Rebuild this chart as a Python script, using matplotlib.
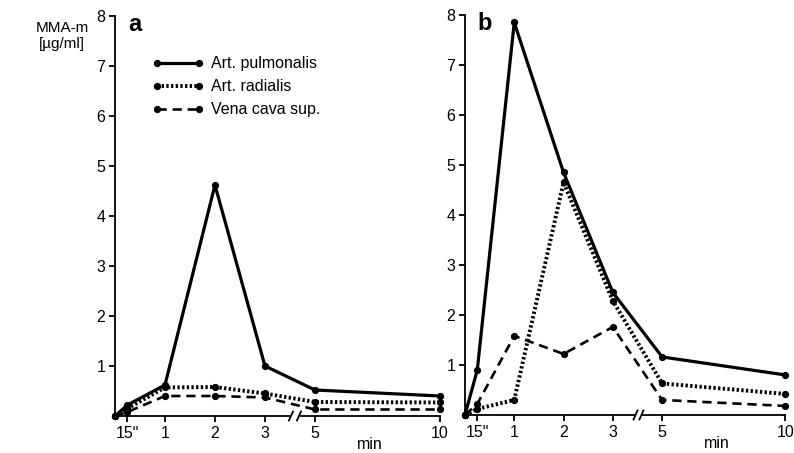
import numpy as np
import matplotlib
matplotlib.use("Agg")
import matplotlib.pyplot as plt

plt.rcParams['font.family'] = ['Liberation Sans', 'DejaVu Sans']

# sampling times in minutes (0, 15 s, 1, 2, 3, 5, 10)
times = [0, 0.25, 1, 2, 3, 5, 10]
tick_times = [0.25, 1, 2, 3, 5, 10]
tick_labels = ['15"', '1', '2', '3', '5', '10']

series_names = ["Art. pulmonalis", "Art. radialis", "Vena cava sup."]

# panel a
a_pulm = [0, 0.22, 0.62, 4.62, 1.0, 0.52, 0.40]
a_rad = [0, 0.15, 0.57, 0.58, 0.45, 0.28, 0.27]
a_vena = [0, 0.08, 0.40, 0.40, 0.37, 0.13, 0.13]

# panel b
b_pulm = [0, 0.90, 7.85, 4.85, 2.45, 1.16, 0.80]
b_rad = [0, 0.12, 0.30, 4.65, 2.28, 0.63, 0.42]
b_vena = [0, 0.22, 1.58, 1.22, 1.76, 0.30, 0.18]


def xpos(t):
    """broken time axis: linear up to 3 min, then 5..10 min compressed"""
    t = np.asarray(t, dtype=float)
    return np.where(t <= 3, t, 4 + (t - 5) * 0.5)


styles = [dict(ls="-", lw=2.3),
          dict(ls=(0, (0.6, 0.6)), lw=2.8),
          dict(ls=(0, (3.5, 2.2)), lw=1.9)]

fig = plt.figure(figsize=(7.94, 4.53), dpi=100)
ax_a = fig.add_axes([0.1448, 0.0817, 0.4093, 0.883])
ax_b = fig.add_axes([0.5856, 0.0840, 0.4035, 0.883])

for ax, data, brk in ((ax_a, (a_pulm, a_rad, a_vena), (3.52, 3.68)),
                      (ax_b, (b_pulm, b_rad, b_vena), (3.46, 3.58))):
    for vals, st, name in zip(data, styles, series_names):
        ax.plot(xpos(times), vals, color="black", marker="o", ms=4.2,
                label=name, clip_on=False, zorder=3, **st)
    ax.set_xlim(0, 6.5)
    ax.set_ylim(0, 8)
    ax.set_yticks(range(1, 9))
    ax.set_xticks(xpos(tick_times))
    ax.set_xticklabels(tick_labels)
    for s in ("top", "right", "bottom"):
        ax.spines[s].set_visible(False)
    ax.spines["left"].set_linewidth(1.3)
    ax.tick_params(axis="both", direction="out", length=4, width=1.3,
                   labelsize=11.5, colors="black", pad=3)
    # x axis drawn by hand with a break
    ax.plot([0, brk[0] - 0.04], [0, 0], color="black", lw=1.3, clip_on=False)
    ax.plot([brk[1] + 0.04, 6.5], [0, 0], color="black", lw=1.3, clip_on=False)
    for bx in brk:
        ax.plot([bx - 0.04, bx + 0.04], [-0.09, 0.09], color="black", lw=1.3,
                clip_on=False)
    ax.text(5.1, -0.072, "min", transform=ax.get_xaxis_transform(),
            ha="center", va="center", fontsize=11.5)

ax_a.text(0.06, 0.978, "a", transform=ax_a.transAxes, fontsize=17,
          fontweight="bold", ha="center", va="center")
ax_b.text(0.06, 0.978, "b", transform=ax_b.transAxes, fontsize=17,
          fontweight="bold", ha="center", va="center")

ax_a.legend(loc="upper left", bbox_to_anchor=(0.095, 0.915), frameon=False,
            numpoints=2, handlelength=3.2, handletextpad=0.5,
            labelspacing=0.5, fontsize=11.5, borderaxespad=0)

fig.text(62 / 794, 1 - 36 / 453, "MMA-m\n[µg/ml]", ha="center", va="center",
         fontsize=11, linespacing=1.2)

fig.savefig("out.png", dpi=100)
